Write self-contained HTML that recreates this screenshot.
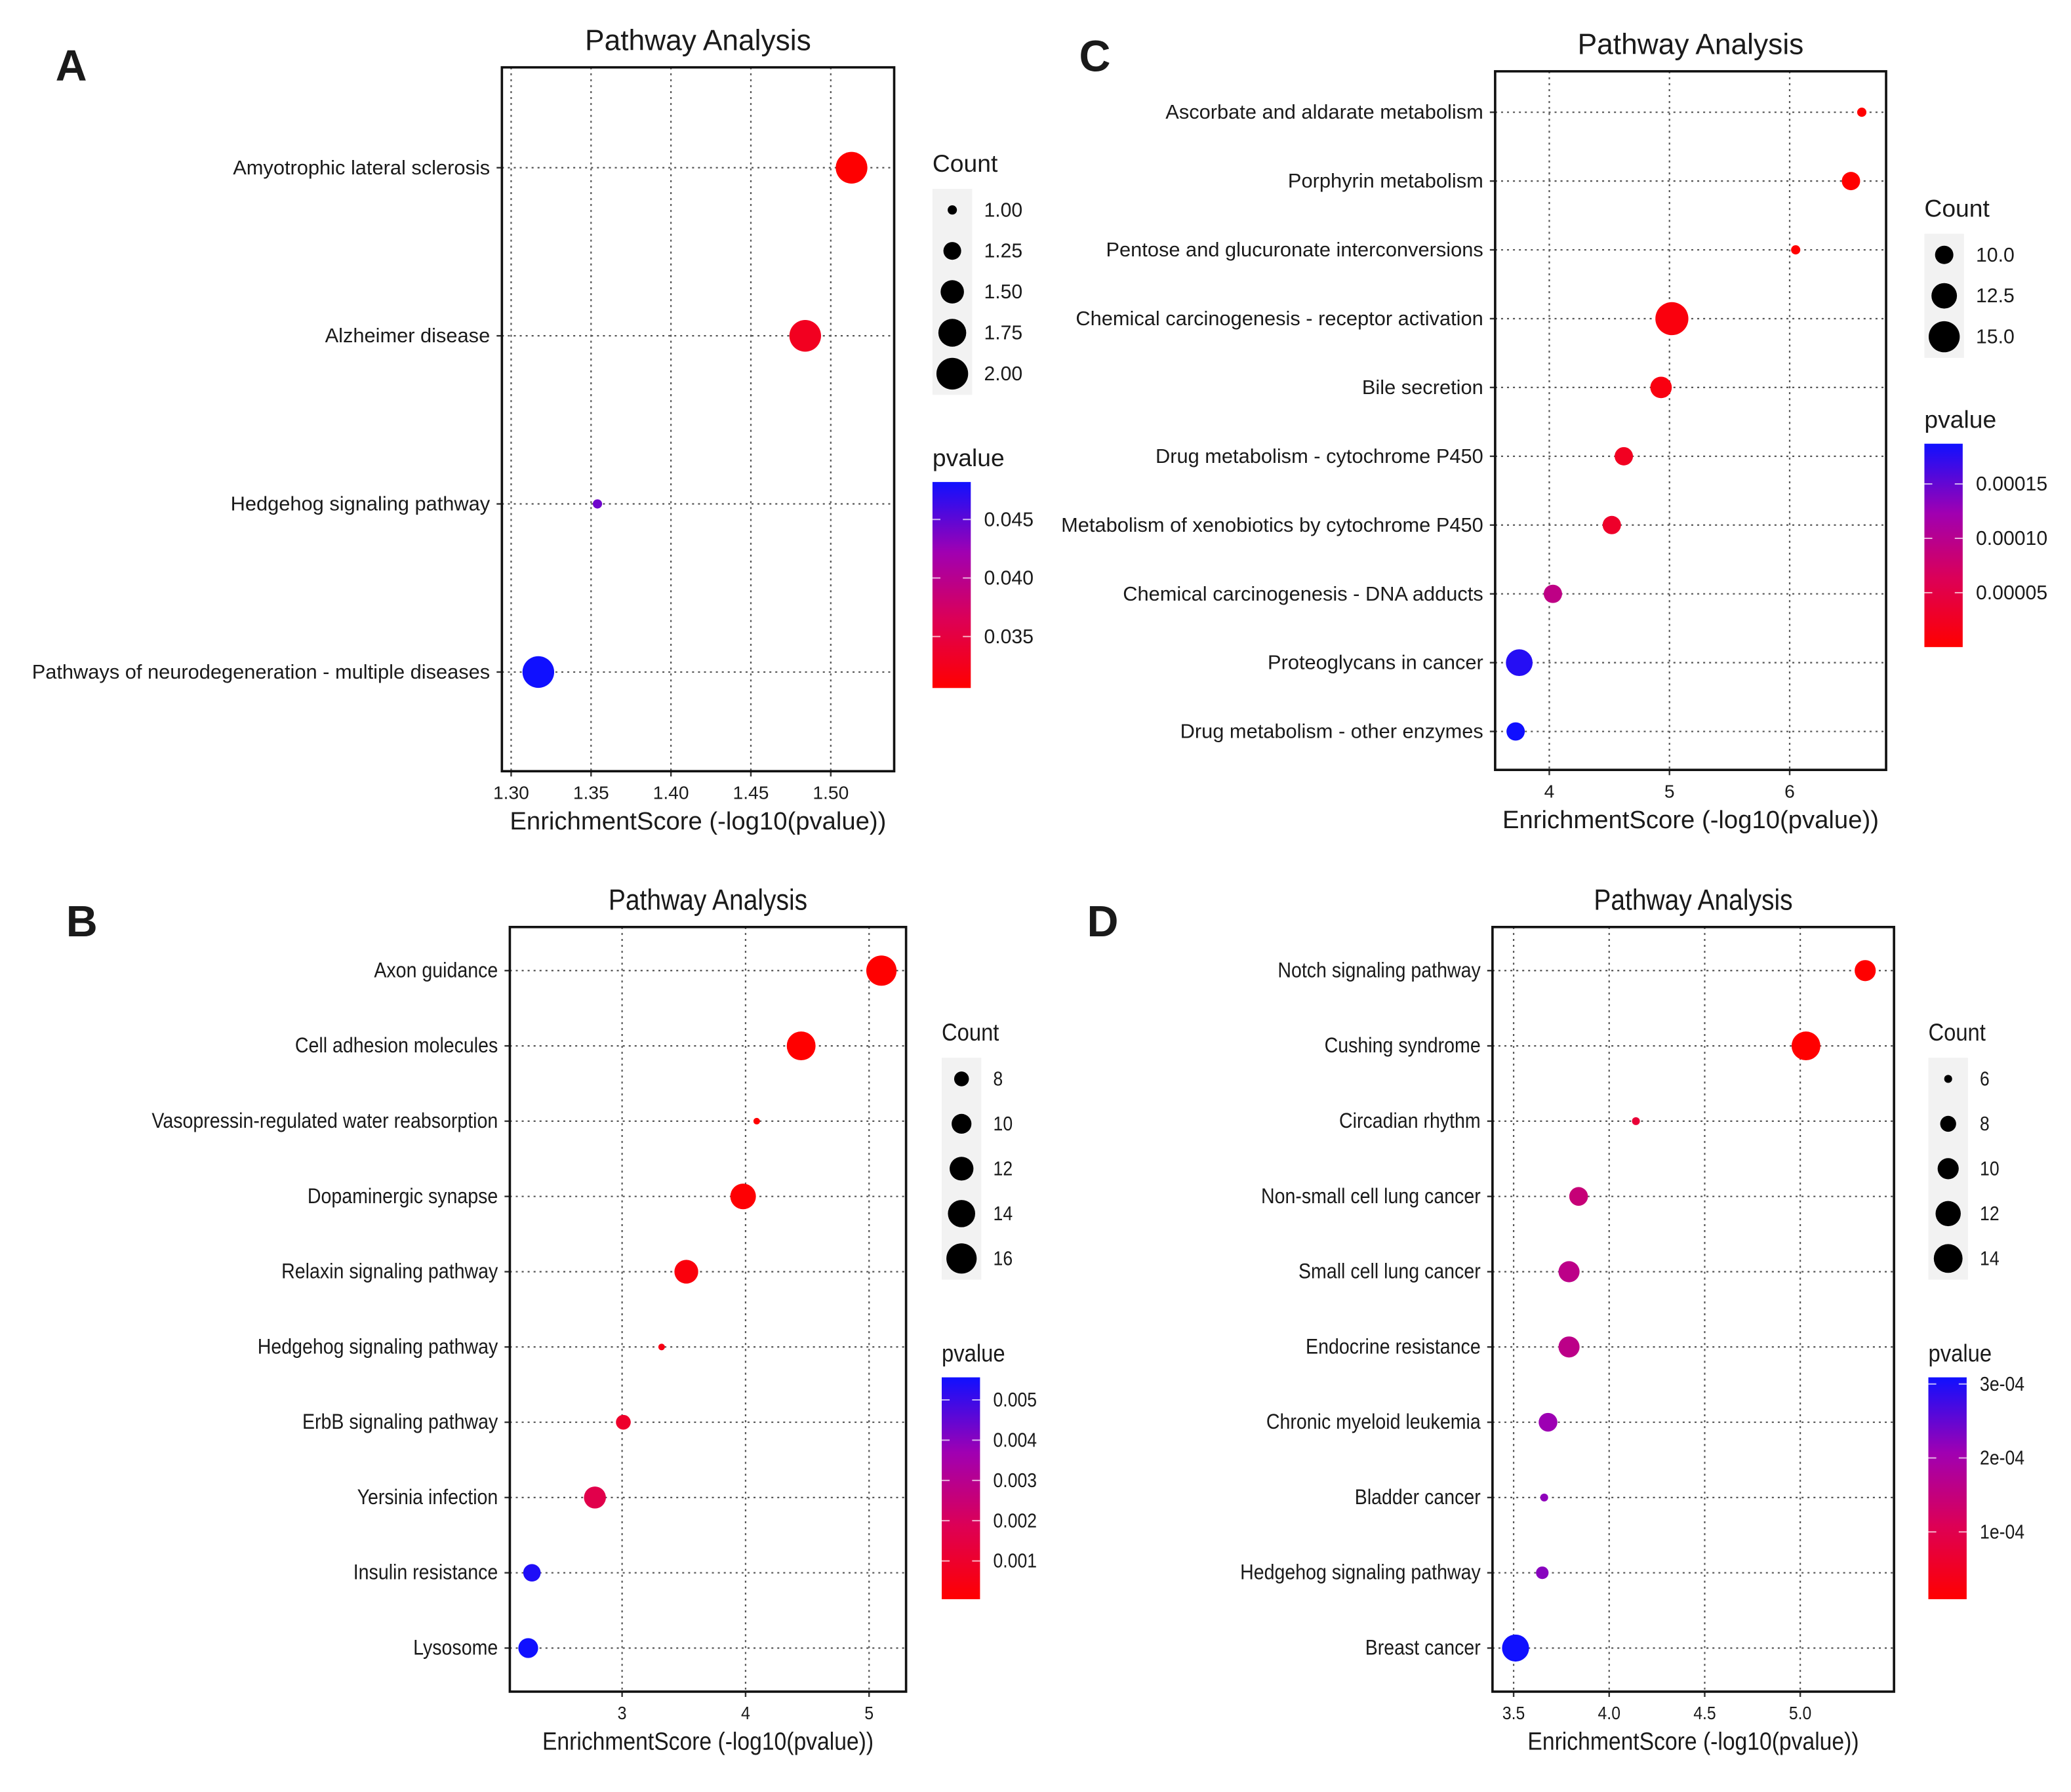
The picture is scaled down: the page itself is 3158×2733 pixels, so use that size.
<!DOCTYPE html>
<html><head><meta charset="utf-8"><style>
html,body{margin:0;padding:0;background:#fff}
svg{display:block}
text{font-family:"Liberation Sans",sans-serif;fill:#1a1a1a}
</style></head><body>
<svg id="fig" width="3158" height="2733" viewBox="0 0 1568 1357" preserveAspectRatio="none" xmlns="http://www.w3.org/2000/svg">
<defs>
<linearGradient id="pg" x1="0" y1="1" x2="0" y2="0">
<stop offset="0" stop-color="#FF0000"/><stop offset="0.33" stop-color="#DD0055"/><stop offset="0.66" stop-color="#A000B2"/><stop offset="1" stop-color="#1010FF"/>
</linearGradient>
</defs>
</svg>
<script>
// ---------- Panel A data ----------
const aCategories = ["Amyotrophic lateral sclerosis","Alzheimer disease","Hedgehog signaling pathway","Pathways of neurodegeneration - multiple diseases"];
const aScores = [1.513, 1.484, 1.354, 1.317];
const aCounts = [2, 2, 1, 2];
const aTicks = [1.30, 1.35, 1.40, 1.45, 1.50];
const aTickLabels = ["1.30","1.35","1.40","1.45","1.50"];
const aCountLegend = [1.00, 1.25, 1.50, 1.75, 2.00];
const aCountLabels = ["1.00","1.25","1.50","1.75","2.00"];
const aPTicks = [0.045, 0.040, 0.035];
const aPLabels = ["0.045","0.040","0.035"];
// ---------- Panel C data ----------
const cCategories = ["Ascorbate and aldarate metabolism","Porphyrin metabolism","Pentose and glucuronate interconversions","Chemical carcinogenesis - receptor activation","Bile secretion","Drug metabolism - cytochrome P450","Metabolism of xenobiotics by cytochrome P450","Chemical carcinogenesis - DNA adducts","Proteoglycans in cancer","Drug metabolism - other enzymes"];
const cScores = [6.60, 6.51, 6.05, 5.02, 4.93, 4.62, 4.52, 4.03, 3.75, 3.72];
const cCounts = [8, 10, 8, 16, 11, 10, 10, 10, 13, 10];
const cTicks = [4, 5, 6];
const cTickLabels = ["4","5","6"];
const cCountLegend = [10, 12.5, 15];
const cCountLabels = ["10.0","12.5","15.0"];
const cPTicks = [0.00015, 0.00010, 0.00005];
const cPLabels = ["0.00015","0.00010","0.00005"];
// ---------- Panel B data ----------
const bCategories = ["Axon guidance","Cell adhesion molecules","Vasopressin-regulated water reabsorption","Dopaminergic synapse","Relaxin signaling pathway","Hedgehog signaling pathway","ErbB signaling pathway","Yersinia infection","Insulin resistance","Lysosome"];
const bScores = [5.10, 4.45, 4.09, 3.98, 3.52, 3.32, 3.01, 2.78, 2.27, 2.24];
const bCounts = [16, 15, 6, 13, 12, 6, 8, 11, 9, 10];
const bTicks = [3, 4, 5];
const bTickLabels = ["3","4","5"];
const bCountLegend = [8, 10, 12, 14, 16];
const bCountLabels = ["8","10","12","14","16"];
const bPTicks = [0.005, 0.004, 0.003, 0.002, 0.001];
const bPLabels = ["0.005","0.004","0.003","0.002","0.001"];
// ---------- Panel D data ----------
const dCategories = ["Notch signaling pathway","Cushing syndrome","Circadian rhythm","Non-small cell lung cancer","Small cell lung cancer","Endocrine resistance","Chronic myeloid leukemia","Bladder cancer","Hedgehog signaling pathway","Breast cancer"];
const dScores = [5.34, 5.03, 4.14, 3.84, 3.79, 3.79, 3.68, 3.66, 3.65, 3.51];
const dCounts = [10, 14, 6, 9, 10, 10, 9, 6, 7, 13];
const dTicks = [3.5, 4.0, 4.5, 5.0];
const dTickLabels = ["3.5","4.0","4.5","5.0"];
const dCountLegend = [6, 8, 10, 12, 14];
const dCountLabels = ["6","8","10","12","14"];
const dPTicks = [3e-4, 2e-4, 1e-4];
const dPLabels = ["3e-04","2e-04","1e-04"];

const NS = "http://www.w3.org/2000/svg";
const svg = document.getElementById("fig");
function mk(tag, attrs, parent, txt){
  const e = document.createElementNS(NS, tag);
  for (const k in attrs) e.setAttribute(k, attrs[k]);
  if (txt !== undefined) e.textContent = txt;
  (parent||svg).appendChild(e);
  return e;
}
function condense(el, f){
  if (f === 1) return;
  try { const w = el.getComputedTextLength(); if (w > 0){ el.setAttribute("textLength", (w*f).toFixed(1)); el.setAttribute("lengthAdjust","spacingAndGlyphs"); } } catch(e){}
}
function lerp(a,b,t){return a+(b-a)*t;}
const stops = [[0,[255,0,0]],[0.33,[221,0,85]],[0.66,[160,0,178]],[1,[16,16,255]]];
function colorAt(t){
  t=Math.max(0,Math.min(1,t));
  for(let i=0;i<stops.length-1;i++){
    const [t0,c0]=stops[i],[t1,c1]=stops[i+1];
    if(t<=t1){const u=(t-t0)/(t1-t0);return "rgb("+c0.map((v,j)=>Math.round(lerp(v,c1[j],u))).join(",")+")";}
  }
  return "rgb(16,16,255)";
}

function panel(cfg){
  const g = mk("g",{});
  
  
  const f = cfg.narrow ? 0.88 : 1;
  const xs = v => cfg.px0 + (v - cfg.v0) * (cfg.px1 - cfg.px0) / (cfg.v1 - cfg.v0);
  const ys = i => cfg.row0 + i * cfg.rowStep;
  const rs = c => Math.sqrt(cfg.r0*cfg.r0 + (c-cfg.c0)/(cfg.c1-cfg.c0)*(cfg.r1*cfg.r1-cfg.r0*cfg.r0));
  const [L,T,R,B] = cfg.box;
  const lt = mk("text",{x:cfg.letter[0],y:cfg.letter[1],"font-size":33,"font-weight":"bold",fill:"#000"},g,cfg.letterText);
  
  
  const tt = mk("text",{x:(L+R)/2,y:T-13,"font-size":22,"text-anchor":"middle"},g,"Pathway Analysis");
  
  
  condense(tt, f);
  cfg.ticks.forEach((v,i)=>{
    const l = mk("line",{x1:xs(v),x2:xs(v),y1:T,y2:B,stroke:"#555","stroke-width":1.1,"stroke-dasharray":"1.5,3"},g);
    
    
    const tk = mk("line",{x1:xs(v),x2:xs(v),y1:B,y2:B+4,stroke:"#333","stroke-width":1.2},g);
    
    
    const tl = mk("text",{x:xs(v),y:B+21,"font-size":14,"text-anchor":"middle",fill:"#333"},g,cfg.tickLabels[i]);
    
    
    condense(tl, f);
  });
  cfg.cats.forEach((c,i)=>{
    const y = ys(i);
    const l = mk("line",{x1:L,x2:R,y1:y,y2:y,stroke:"#555","stroke-width":1.1,"stroke-dasharray":"1.5,3"},g);
    
    
    const tk = mk("line",{x1:L-4,x2:L,y1:y,y2:y,stroke:"#333","stroke-width":1.2},g);
    
    
    const tl = mk("text",{x:L-9,y:y+5,"font-size":cfg.narrow?16.3:15.3,"text-anchor":"end",fill:"#222"},g,c);
    
    
    condense(tl, cfg.narrow ? 0.87 : 1);
  });
  cfg.scores.forEach((s,i)=>{
    const p = Math.pow(10,-s);
    const t = (p - cfg.p0)/(cfg.p1 - cfg.p0);
    const c = mk("circle",{cx:xs(s),cy:ys(i),r:rs(cfg.counts[i]),fill:colorAt(t)},g);
    
    
  });
  const bx = mk("rect",{x:L,y:T,width:R-L,height:B-T,fill:"none",stroke:"#111","stroke-width":1.8},g);
  
  
  const xt = mk("text",{x:(L+R)/2,y:B+44,"font-size":19,"text-anchor":"middle"},g,"EnrichmentScore (-log10(pvalue))");
  
  
  condense(xt, f);
  const [lx, ly, lstep] = cfg.countLeg;
  const ct = mk("text",{x:lx,y:ly,"font-size":18.5},g,"Count");
  
  
  condense(ct, f);
  const k0 = ly+29, n = cfg.countLegend.length;
  const bg = mk("rect",{x:lx,y:k0-16,width:30,height:(n-1)*lstep+32,fill:"#F2F2F2"},g);
  
  
  cfg.countLegend.forEach((c,i)=>{
    const y = k0 + i*lstep;
    const cc = mk("circle",{cx:lx+15,cy:y,r:rs(c),fill:"#000"},g);
    
    
    const tl = mk("text",{x:lx+39,y:y+5,"font-size":15,fill:"#222"},g,cfg.countLabels[i]);
    
    
    condense(tl, f);
  });
  const [bxl, bt, bb] = cfg.pbar;
  const pt = mk("text",{x:bxl,y:bt-12,"font-size":18.5},g,"pvalue");
  
  
  condense(pt, f);
  const cb = mk("rect",{x:bxl,y:bt,width:29,height:bb-bt,fill:"url(#pg)"},g);
  
  
  cfg.pTicks.forEach((p,i)=>{
    const y = bb - (p - cfg.p0)/(cfg.p1 - cfg.p0)*(bb-bt);
    mk("line",{x1:bxl,x2:bxl+6,y1:y,y2:y,stroke:"#fff","stroke-width":1,opacity:0.7},g);
    mk("line",{x1:bxl+23,x2:bxl+29,y1:y,y2:y,stroke:"#fff","stroke-width":1,opacity:0.7},g);
    const tl = mk("text",{x:bxl+39,y:y+5,"font-size":15,fill:"#222"},g,cfg.pLabels[i]);
    
    
    condense(tl, f);
  });
}

panel({name:"panel-a",letterText:"A",letter:[42,61],box:[380,51,677,584],narrow:false,
  cats:aCategories,scores:aScores,counts:aCounts,ticks:aTicks,tickLabels:aTickLabels,
  v0:1.30,v1:1.50,px0:387,px1:629,row0:127,rowStep:127.3,
  c0:1,c1:2,r0:3.5,r1:12,countLegend:aCountLegend,countLabels:aCountLabels,countLeg:[706,130,31],
  pbar:[706,365,521],p0:0.0306,p1:0.0482,pTicks:aPTicks,pLabels:aPLabels});
panel({name:"panel-c",letterText:"C",letter:[817,54],box:[1132,54,1428,583],narrow:false,
  cats:cCategories,scores:cScores,counts:cCounts,ticks:cTicks,tickLabels:cTickLabels,
  v0:4,v1:6,px0:1173,px1:1355,row0:85,rowStep:52.1,
  c0:8,c1:16,r0:3.5,r1:12.5,countLegend:cCountLegend,countLabels:cCountLabels,countLeg:[1457,164,31],
  pbar:[1457,336,490],p0:0.0,p1:0.000187,pTicks:cPTicks,pLabels:cPLabels});
panel({name:"panel-b",letterText:"B",letter:[50,709],box:[386,702,686,1281],narrow:true,
  cats:bCategories,scores:bScores,counts:bCounts,ticks:bTicks,tickLabels:bTickLabels,
  v0:3,v1:5,px0:471,px1:658,row0:735,rowStep:57,
  c0:6,c1:17,r0:2.5,r1:12,countLegend:bCountLegend,countLabels:bCountLabels,countLeg:[713,788,34],
  pbar:[713,1043,1211],p0:0.00005,p1:0.00556,pTicks:bPTicks,pLabels:bPLabels});
panel({name:"panel-d",letterText:"D",letter:[823,709],box:[1130,702,1434,1281],narrow:true,
  cats:dCategories,scores:dScores,counts:dCounts,ticks:dTicks,tickLabels:dTickLabels,
  v0:3.5,v1:5.0,px0:1146,px1:1363,row0:735,rowStep:57,
  c0:6,c1:15,r0:3,r1:11.5,countLegend:dCountLegend,countLabels:dCountLabels,countLeg:[1460,788,34],
  pbar:[1460,1043,1211],p0:0.000009,p1:0.000309,pTicks:dPTicks,pLabels:dPLabels});
</script>
</body></html>
